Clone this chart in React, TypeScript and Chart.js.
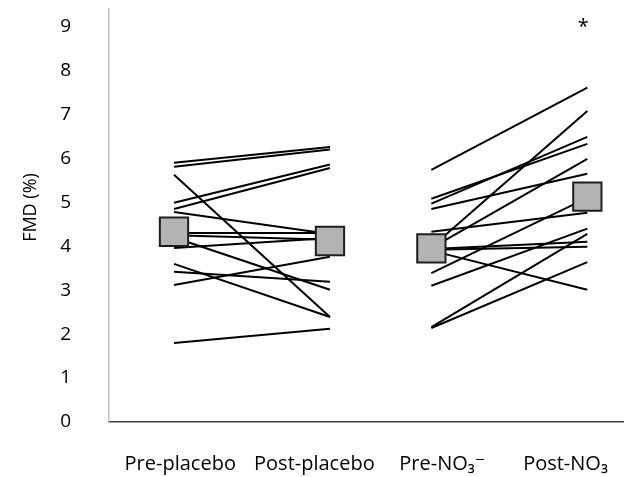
import React, { useEffect, useRef } from 'react';
import { Chart, registerables } from 'chart.js';

Chart.register(...registerables);

// ---- data ----
const categories = ['Pre-placebo', 'Post-placebo', 'Pre-NO₃⁻', 'Post-NO₃'];
const groupX = [1, 2, 2.65, 3.65];

const placeboPre = [5.9, 5.81, 5.63, 4.99, 4.85, 4.78, 4.3, 4.25, 4.2, 3.96, 3.6, 3.42, 3.12, 1.8];
const placeboPost = [6.26, 6.2, 2.39, 5.86, 5.78, 4.28, 4.3, 4.15, 3.01, 4.19, 2.39, 3.19, 3.76, 2.12];

const nitratePre = [5.74, 5.08, 4.97, 4.85, 4.33, 3.98, 3.96, 3.94, 3.92, 3.9, 3.39, 3.1, 2.16, 2.14];
const nitratePost = [7.61, 6.33, 6.49, 5.65, 4.76, 7.08, 5.99, 4.1, 3.99, 3.01, 5.1, 4.4, 4.28, 3.64];

const means = [4.33, 4.12, 3.95, 5.13];
const significance = ['', '', '', '*'];
const yTicks = [0, 1, 2, 3, 4, 5, 6, 7, 8, 9];
const yTitle = 'FMD (%)';

// ---- layout constants ----
const labelShift = [0.04, -0.1, 0.07, -0.14];
const FONT = "'Open Sans', 'DejaVu Sans', sans-serif";
const zeroPadding = () => ({ left: 0, right: 0, top: 0, bottom: 0 });

export default function App() {
  const ref = useRef<HTMLCanvasElement>(null);

  useEffect(() => {
    if (!ref.current) return;
    const lineStyle = {
      showLine: true,
      borderColor: '#000000',
      borderWidth: 2,
      pointRadius: 0,
      pointHoverRadius: 0,
      order: 1,
    };
    const datasets: any[] = [];
    datasets.push({
      data: means.map((m, i) => ({ x: groupX[i], y: m })),
      showLine: false,
      pointStyle: 'rect',
      pointRadius: 20,
      pointHoverRadius: 20,
      backgroundColor: '#b3b3b3',
      borderColor: '#1e1e1e',
      borderWidth: 2,
      order: 0,
    });
    placeboPre.forEach((v, i) => {
      datasets.push({
        ...lineStyle,
        data: [
          { x: groupX[0], y: v },
          { x: groupX[1], y: placeboPost[i] },
        ],
      });
    });
    nitratePre.forEach((v, i) => {
      datasets.push({
        ...lineStyle,
        data: [
          { x: groupX[2], y: v },
          { x: groupX[3], y: nitratePost[i] },
        ],
      });
    });

    const textPlugin = {
      id: 'extraText',
      afterDraw(chart: any) {
        const ctx = chart.ctx;
        const xs = chart.scales.x;
        const ys = chart.scales.y;
        const area = chart.chartArea;
        ctx.save();
        ctx.fillStyle = '#000';
        ctx.font = `20px ${FONT}`;
        ctx.textAlign = 'center';
        ctx.textBaseline = 'middle';
        significance.forEach((s, i) => {
          if (!s) return;
          ctx.fillText(s, xs.getPixelForValue(groupX[i]) - 4, ys.getPixelForValue(8.98));
        });
        // y-axis title
        ctx.font = `18px ${FONT}`;
        ctx.translate(31, (area.top + area.bottom) / 2 - 8);
        ctx.rotate(-Math.PI / 2);
        ctx.fillText(yTitle, 0, 0);
        ctx.restore();
      },
    };

    const chart = new Chart(ref.current, {
      type: 'scatter',
      data: { datasets },
      options: {
        animation: false,
        responsive: false,
        devicePixelRatio: 1,
        layout: { autoPadding: false, padding: { top: 9, left: 0, right: 0, bottom: 0 } },
        plugins: { legend: { display: false }, tooltip: { enabled: false } },
        scales: {
          x: {
            type: 'linear',
            min: 0.5833,
            max: 3.885,
            grid: { display: false },
            border: { display: true, color: '#404040', width: 1.5 },
            afterBuildTicks: (scale: any) => {
              scale.ticks = groupX.map((p, i) => ({ value: p + labelShift[i] }));
            },
            afterFit: (scale: any) => {
              scale.height = 55;
              scale.paddingLeft = 0;
              scale.paddingRight = 0;
              scale.getPadding = zeroPadding;
            },
            ticks: {
              autoSkip: false,
              maxRotation: 0,
              color: '#000',
              padding: 22,
              font: { family: FONT, size: 20 },
              callback: (_v: any, i: number) => categories[i],
            },
          },
          y: {
            type: 'linear',
            min: 0,
            max: 9.4,
            grid: { display: false },
            border: { display: true, color: '#bfbfbf', width: 1.5 },
            afterBuildTicks: (scale: any) => {
              scale.ticks = yTicks.map((v) => ({ value: v }));
            },
            afterFit: (scale: any) => {
              scale.width = 109;
              scale.paddingTop = 0;
              scale.paddingBottom = 0;
              scale.getPadding = zeroPadding;
            },
            ticks: {
              color: '#000',
              padding: 30,
              font: { family: FONT, size: 19 },
              callback: (v: any) => String(v),
            },
          },
        },
      },
      plugins: [textPlugin],
    } as any);
    return () => chart.destroy();
  }, []);

  return (
    <div style={{ position: 'absolute', left: 0, top: 0, width: 624, height: 477, background: '#fff' }}>
      <canvas ref={ref} width={624} height={477} style={{ width: 624, height: 477, display: 'block' }} />
    </div>
  );
}
